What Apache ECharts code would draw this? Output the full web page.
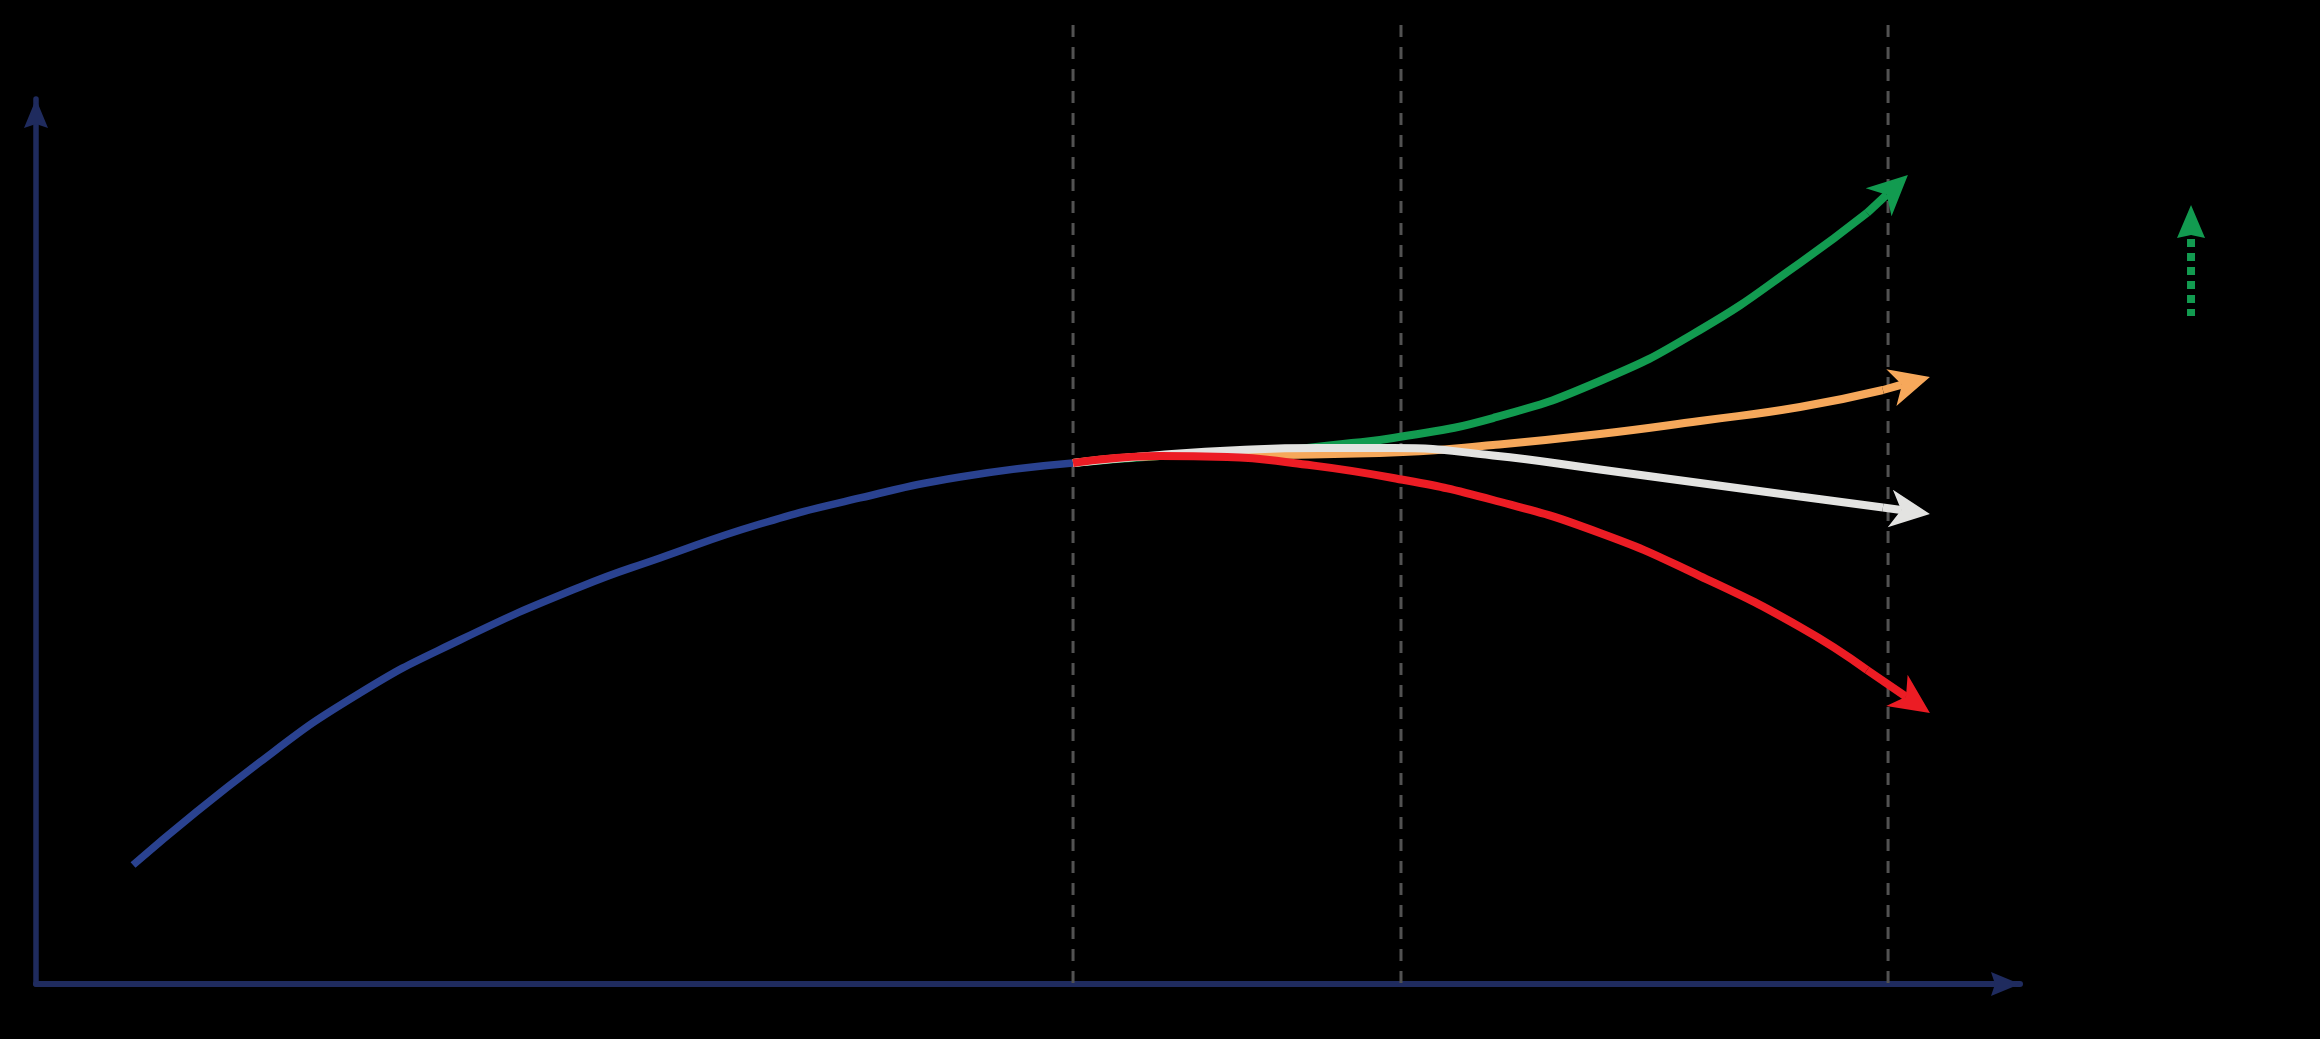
<!DOCTYPE html>
<html>
<head>
<meta charset="utf-8">
<script src="https://cdn.jsdelivr.net/npm/echarts@6/dist/echarts.min.js"></script>
<style>
html,body{margin:0;padding:0;background:#000;}
#c{width:2320px;height:1039px;}
</style>
</head>
<body>
<div id="c"></div>
<script>
// ---- data (abstract units: time along x 0..100, level along y 0..100) ----
const historyPts = [[4.89,13.45],[11.29,25.08],[16.33,32.88],[21.37,38.87],[27.42,44.86],[31.45,48.14],[36.49,51.98],[41.53,54.92],[46.57,57.29],[52.27,58.87]];
const redPts = [[52.27,58.87],[56.65,59.66],[60.03,59.55],[63.36,58.87],[68.40,57.18],[73.44,54.69],[78.83,50.96],[83.87,46.10],[88.91,40.34],[92.29,35.48],[95.46,30.62]];
const whitePts = [[52.27,58.87],[56.65,59.77],[60.69,60.34],[64.72,60.56],[68.40,60.56],[73.44,59.72],[78.83,58.14],[83.87,56.61],[88.91,55.08],[93.09,53.84],[95.46,53.11]];
const orangePts = [[52.27,58.87],[56.65,59.66],[61.69,59.77],[68.90,60.11],[73.44,60.90],[78.83,62.15],[83.87,63.62],[88.91,65.20],[93.09,67.12],[95.46,68.59]];
const greenPts = [[52.27,58.87],[56.65,59.66],[61.69,60.11],[65.88,61.02],[68.40,61.69],[73.44,63.95],[78.83,68.14],[83.87,73.90],[88.91,81.47],[92.29,87.12],[94.35,91.41]];
const dashedX = [52.27, 68.80, 93.35];
const dashedTop = 108.36;
const legendArrowX = 108.62;
const legendArrowY = [75.48, 88.02];
const axisMaxX = 100;
const axisMaxY = 100;

const colors = {
  axis: '#1f2b5e', history: '#2a4290', red: '#ec1c24', white: '#e3e3e1',
  orange: '#f6a85b', green: '#129b50', guide: '#525252'
};

// arrowhead styles (pixel sizes)
const headCurve = {len: 40, width: 38, notch: 11, line: 8};
const headAxis = {len: 29, width: 24, notch: 4, line: 0};
const headLegend = {len: 33, width: 28, notch: 3, line: 0};

const chart = echarts.init(document.getElementById('c'), null, {renderer: 'canvas'});

function lastTwo(pts) {
  const a = pts[pts.length - 2], b = pts[pts.length - 1];
  return [a[0], a[1], b[0], b[1]];
}

const arrowDefs = [
  {seg: lastTwo(greenPts), color: colors.green, head: headCurve},
  {seg: lastTwo(orangePts), color: colors.orange, head: headCurve},
  {seg: lastTwo(whitePts), color: colors.white, head: headCurve},
  {seg: lastTwo(redPts), color: colors.red, head: headCurve},
  {seg: [0, axisMaxY - 1, 0, axisMaxY], color: colors.axis, head: headAxis},
  {seg: [axisMaxX - 1, 0, axisMaxX, 0], color: colors.axis, head: headAxis}
];

function headPoints(a, b, h) {
  let dx = b[0] - a[0], dy = b[1] - a[1];
  const l = Math.hypot(dx, dy) || 1; dx /= l; dy /= l;
  const nx = -dy, ny = dx;
  const bx = b[0] - h.len * dx, by = b[1] - h.len * dy;
  const mx = b[0] - (h.len - h.notch) * dx, my = b[1] - (h.len - h.notch) * dy;
  return {
    poly: [[b[0], b[1]], [bx + nx * h.width / 2, by + ny * h.width / 2], [mx, my], [bx - nx * h.width / 2, by - ny * h.width / 2]],
    base: [bx, by], notchPt: [mx, my]
  };
}

function curve(name, pts, color, width, z) {
  return {
    name: name, type: 'line', data: pts, smooth: 0.5, symbol: 'none',
    clip: false, silent: true, z: z,
    lineStyle: {color: color, width: width, cap: 'butt'}
  };
}

const series = [];
dashedX.forEach((x, i) => {
  series.push({
    name: 'guide' + i, type: 'line', data: [[x, dashedTop], [x, 0]], symbol: 'none',
    clip: false, silent: true, z: 1,
    lineStyle: {color: colors.guide, width: 3, type: [12, 10]}
  });
});
series.push(curve('history', historyPts, colors.history, 7.5, 3));
// the final segment of each scenario is drawn together with its arrowhead
series.push(curve('green', greenPts.slice(0, -1), colors.green, 8, 3));
series.push(curve('orange', orangePts.slice(0, -1), colors.orange, 8, 3));
series.push(curve('white', whitePts.slice(0, -1), colors.white, 8, 3));
series.push(curve('red', redPts.slice(0, -1), colors.red, 8, 3));

series.push({
  name: 'heads', type: 'custom', coordinateSystem: 'cartesian2d', clip: false, silent: true, z: 6,
  data: arrowDefs.map(d => d.seg),
  renderItem: function (params, api) {
    const d = arrowDefs[params.dataIndex];
    const a = api.coord([api.value(0), api.value(1)]);
    const b = api.coord([api.value(2), api.value(3)]);
    const hp = headPoints(a, b, d.head);
    const children = [];
    if (d.head.line > 0) {
      children.push({type: 'line', shape: {x1: a[0], y1: a[1], x2: hp.notchPt[0], y2: hp.notchPt[1]},
        style: {stroke: d.color, lineWidth: d.head.line, lineCap: 'butt'}});
    }
    children.push({type: 'polygon', shape: {points: hp.poly}, style: {fill: d.color, stroke: null}});
    return {type: 'group', children: children};
  }
});

series.push({
  name: 'legendArrow', type: 'custom', coordinateSystem: 'cartesian2d', clip: false, silent: true, z: 6,
  data: [[legendArrowX, legendArrowY[0], legendArrowX, legendArrowY[1]]],
  renderItem: function (params, api) {
    const a = api.coord([api.value(0), api.value(1)]);
    const b = api.coord([api.value(2), api.value(3)]);
    const hp = headPoints(a, b, headLegend);
    return {
      type: 'group',
      children: [
        {type: 'line', shape: {x1: hp.base[0], y1: hp.base[1] + 1, x2: a[0], y2: a[1]},
         style: {stroke: colors.green, lineWidth: 8, lineDash: [8, 6], lineCap: 'butt'}},
        {type: 'polygon', shape: {points: hp.poly}, style: {fill: colors.green}}
      ]
    };
  }
});

chart.setOption({
  backgroundColor: '#000',
  animation: false,
  grid: {left: 36, right: 300, top: 99, bottom: 55, containLabel: false},
  xAxis: {
    type: 'value', min: 0, max: axisMaxX,
    axisLine: {show: true, onZero: false, lineStyle: {color: colors.axis, width: 6}},
    axisTick: {show: false}, axisLabel: {show: false}, splitLine: {show: false}
  },
  yAxis: {
    type: 'value', min: 0, max: axisMaxY,
    axisLine: {show: true, onZero: false, lineStyle: {color: colors.axis, width: 5.5}},
    axisTick: {show: false}, axisLabel: {show: false}, splitLine: {show: false}
  },
  series: series
});
</script>
</body>
</html>
